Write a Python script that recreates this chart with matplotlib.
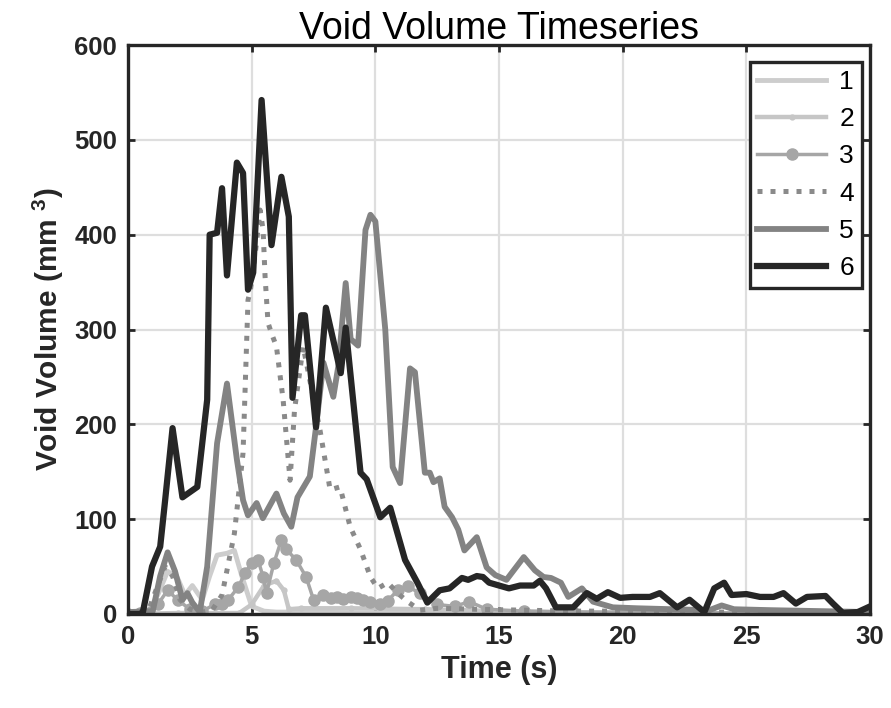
import numpy as np
import matplotlib.pyplot as plt

plt.rcParams['font.family'] = ['Liberation Sans', 'DejaVu Sans']
plt.rcParams['mathtext.fontset'] = 'custom'
plt.rcParams['mathtext.rm'] = 'Liberation Sans'
plt.rcParams['mathtext.bf'] = 'Liberation Sans:bold'

# series 1 (lightest, solid)
t1 = [0, 0.8, 1.2, 1.6, 2.0, 2.3, 2.6, 3.0, 3.3, 3.6, 4.0, 4.3, 4.6, 5.0, 5.5, 6.0, 7.0, 10, 15, 20, 30]
v1 = [0, 2, 20, 45, 38, 20, 30, 15, 40, 62, 64, 67, 40, 8, 3, 2, 2, 1, 1, 0, 0]

# series 2 (light, small markers)
t2 = [0, 2, 4.5, 5.0, 5.5, 6.0, 6.3, 6.5, 7.0, 9, 12, 15, 20, 25, 30]
v2 = [0, 1, 1, 10, 30, 35, 25, 5, 6, 6, 5, 3, 1, 0, 0]

# series 3 (circle markers)
t3 = [0, 0.5, 1.2, 1.6, 2.0, 2.5, 3.0, 3.5, 3.8, 4.05, 4.45, 4.73, 5.0, 5.26, 5.46, 5.6, 5.9, 6.2,
      6.4, 6.8, 7.2, 7.5, 7.9, 8.2, 8.45, 8.7, 9.0, 9.25, 9.5, 9.8, 10.2, 10.5, 10.9, 11.3, 11.8,
      12.5, 13.2, 13.8, 14.5, 16, 18, 20, 25, 30]
v3 = [0, 1, 10, 25, 15, 5, 3, 10, 10, 15, 28, 43, 54, 57, 39, 22, 54, 78,
      68, 57, 39, 15, 20, 17, 18, 16, 18, 17, 15, 13, 10, 14, 25, 29, 22,
      10, 8, 13, 5, 3, 2, 2, 1, 1]

# series 4 (dotted)
t4 = [0, 0.8, 1.2, 1.5, 1.8, 2.1, 2.5, 3.0, 3.4, 3.8, 4.3, 4.65, 4.85, 4.95, 5.13, 5.34, 5.46, 5.54,
      5.66, 5.8, 6.0, 6.27, 6.55, 6.73, 7.08, 7.4, 7.76, 8.17, 8.57, 8.98, 9.4, 9.8, 10.1, 10.5,
      10.9, 11.3, 11.8, 12.5, 14, 16, 18, 20, 24, 30]
v4 = [0, 2, 30, 50, 40, 15, 5, 2, 4, 20, 85, 170, 331, 342, 377, 426, 405, 356,
      307, 296, 282, 226, 141, 215, 282, 240, 194, 131, 134, 92, 68, 39, 27, 33,
      22, 13, 4, 6, 5, 4, 3, 3, 2, 2]

# series 5 (medium gray, solid)
t5 = [0, 1.0, 1.3, 1.6, 1.9, 2.2, 2.4, 2.6, 2.9, 3.2, 3.6, 4.0, 4.4, 4.65, 4.85, 5.2, 5.45, 6.0,
      6.3, 6.6, 6.85, 7.35, 7.6, 7.9, 8.3, 8.5, 8.8, 9.0, 9.3, 9.6, 9.8, 10.0, 10.4, 10.7, 11.0,
      11.4, 11.6, 12.0, 12.2, 12.35, 12.6, 12.8, 13.1, 13.35, 13.6, 14.1, 14.5, 14.85, 15.3, 16.0,
      16.45, 16.8, 17.1, 17.5, 17.8, 18.35, 18.8, 19.6, 20.6, 22, 23.5, 24.0, 24.5, 26, 28, 30]
v5 = [2, 3, 40, 65, 45, 15, 22, 12, 2, 50, 180, 243, 163, 120, 104, 117, 101, 127,
      106, 92, 123, 145, 197, 265, 229, 261, 349, 290, 283, 405, 421, 414, 300, 155, 138,
      259, 255, 149, 149, 139, 143, 113, 102, 89, 67, 81, 49, 41, 36, 60,
      46, 39, 38, 33, 18, 27, 13, 7, 6, 5, 4, 9, 5, 4, 3, 2]

# series 6 (black)
t6 = [0, 0.5, 0.6, 0.97, 1.3, 1.5, 1.8, 2.2, 2.8, 3.2, 3.3, 3.6, 3.8, 4.0, 4.4, 4.65, 4.85, 5.06,
      5.4, 5.8, 6.2, 6.5, 6.65, 7.0, 7.15, 7.6, 8.0, 8.6, 8.8, 9.4, 9.65, 10.2, 10.6, 11.2, 11.7,
      12.1, 12.6, 13.0, 13.5, 13.75, 14.1, 14.35, 14.6, 15.4, 15.85, 16.4, 16.65, 16.9, 17.3, 18.0,
      18.55, 18.95, 19.4, 19.9, 20.4, 21.1, 21.5, 22.2, 22.7, 23.3, 23.7, 24.1, 24.4, 25.0, 25.55,
      26.1, 26.5, 27.0, 27.45, 28.2, 28.5, 28.9, 29.5, 30]
v6 = [0, 0, 2, 50, 71, 120, 196, 123, 134, 226, 400, 402, 449, 357, 476, 465, 342, 360,
      542, 389, 461, 419, 228, 315, 315, 197, 323, 254, 302, 149, 142, 102, 112, 57, 33,
      12, 25, 27, 38, 36, 40, 39, 33, 27, 30, 30, 35, 27, 7, 7,
      22, 16, 23, 17, 18, 18, 22, 7, 15, 2, 27, 33, 20, 21, 18,
      18, 22, 11, 18, 19, 11, 1, 2, 8]

labels = ['1', '2', '3', '4', '5', '6']
dark = '#262626'

fig = plt.figure(figsize=(8.91, 7.08), dpi=100)
ax = fig.add_axes([0.1437, 0.1328, 0.8328, 0.8036])

ax.plot(t1, v1, color='#cdcdcd', lw=3.5, label=labels[0])
ax.plot(t2, v2, color='#c6c6c6', lw=3.2, marker='o', ms=3.5, label=labels[1])
ax.plot(t3, v3, color='#a6a6a6', lw=2.5, marker='o', ms=8, label=labels[2])
ax.plot(t4, v4, color='#8a8a8a', lw=3.6, ls=(0, (1, 1.6)), label=labels[3])
ax.plot(t5, v5, color='#838383', lw=4.2, label=labels[4])
ax.plot(t6, v6, color=dark, lw=4.5, label=labels[5])

ax.set_xlim(0, 30)
ax.set_ylim(0, 600)
ax.set_xticks(np.arange(0, 31, 5))
ax.set_yticks(np.arange(0, 601, 100))
ax.grid(True, color='#dedede', lw=1.6)
ax.set_axisbelow(True)
ax.tick_params(direction='in', length=5, width=2, colors=dark, labelsize=18.5,
               top=True, right=True, pad=8)
for lab in ax.get_xticklabels() + ax.get_yticklabels():
    lab.set_fontweight('bold')
for s in ax.spines.values():
    s.set_linewidth(2.4)
    s.set_color(dark)

ax.set_xlabel('Time (s)', fontsize=22, fontweight='bold', color=dark, labelpad=4)
ax.set_ylabel(r'Void Volume (mm $^{\mathbf{3}}$)', fontsize=21.5, fontweight='bold', color=dark, labelpad=6)
ax.set_title('Void Volume Timeseries', fontsize=27, color='black', pad=4)

leg = ax.legend(loc='upper right', bbox_to_anchor=(0.989, 0.970), borderaxespad=0,
                fontsize=19, handlelength=2.6, labelspacing=0.5, fancybox=False,
                framealpha=1, edgecolor=dark, handletextpad=0.5, borderpad=0.3)
leg.get_frame().set_linewidth(2.4)

fig.savefig('out.png', dpi=100)
